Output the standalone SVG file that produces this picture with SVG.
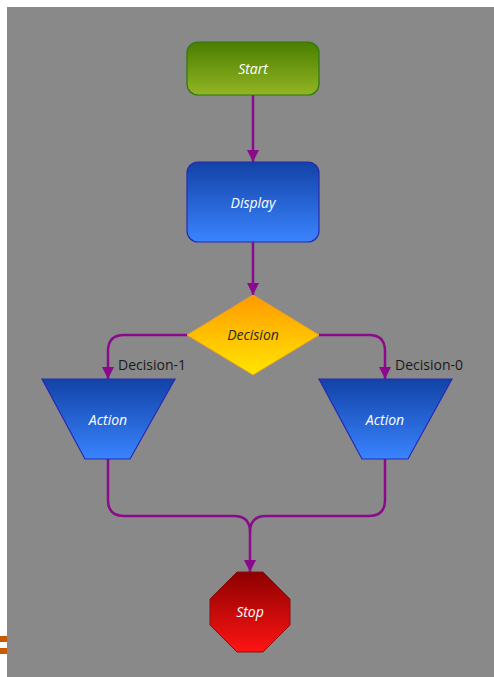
<svg xmlns="http://www.w3.org/2000/svg" width="494" height="677" viewBox="0 0 494 677">
<style>
.lbl{font-family:"Open Sans","Noto Sans",sans-serif;font-style:italic;font-size:14px;text-anchor:middle;fill:#ffffff}
.dlbl{font-family:"Open Sans","Noto Sans",sans-serif;font-size:14px;fill:#1a1a1a}
.con{fill:none;stroke:#8b0a8b;stroke-width:2.5}
</style>
<defs>
<linearGradient id="gGreen" x1="0" y1="0" x2="0" y2="1"><stop offset="0" stop-color="#4a7e00"/><stop offset="1" stop-color="#93b524"/></linearGradient>
<linearGradient id="gBlue" x1="0" y1="0" x2="0" y2="1"><stop offset="0" stop-color="#1242a6"/><stop offset="1" stop-color="#3a84ff"/></linearGradient>
<linearGradient id="gOrange" x1="0" y1="0" x2="0" y2="1"><stop offset="0" stop-color="#ff9a00"/><stop offset="1" stop-color="#ffe600"/></linearGradient>
<linearGradient id="gRed" x1="0" y1="0" x2="0" y2="1"><stop offset="0" stop-color="#8c0000"/><stop offset="1" stop-color="#ff1414"/></linearGradient>
<marker id="arr" viewBox="0 0 12 12" refX="12" refY="6" markerWidth="12" markerHeight="12" markerUnits="userSpaceOnUse" orient="auto"><path d="M0,0 L12,6 L0,12 Z" fill="#8b0a8b"/></marker>
</defs>
<rect x="7" y="7" width="487" height="670" fill="#898989"/>
<rect x="0" y="636" width="7" height="6" fill="#c85a00"/>
<rect x="0" y="648" width="7" height="6" fill="#c85a00"/>
<g id="connectors">
<path class="con" d="M253,95 V162" marker-end="url(#arr)"/>
<path class="con" d="M253,242 V295" marker-end="url(#arr)"/>
<path class="con" d="M187,335 H124 Q108,335 108,351 V379" marker-end="url(#arr)"/>
<path class="con" d="M319,335 H369 Q385,335 385,351 V379" marker-end="url(#arr)"/>
<path class="con" d="M108,459 V500 Q108,516 124,516 H234 Q250,516 250,532"/>
<path class="con" d="M385,459 V500 Q385,516 369,516 H266 Q250,516 250,532 V572" marker-end="url(#arr)"/>
<text class="dlbl" x="118" y="370">Decision-1</text>
<text class="dlbl" x="395" y="370">Decision-0</text>
</g>
<g id="start">
<rect x="187" y="42" width="132" height="53" rx="11" fill="url(#gGreen)" stroke="#2a7a10" stroke-width="1.2"/>
<text class="lbl" x="253" y="74">Start</text>
</g>
<g id="display">
<rect x="187" y="162" width="132" height="80" rx="11" fill="url(#gBlue)" stroke="#2828b4" stroke-width="1.2"/>
<text class="lbl" x="253" y="208">Display</text>
</g>
<g id="decision">
<polygon points="253,295 319,335 253,375 187,335" fill="url(#gOrange)" stroke="#f0a020" stroke-width="1"/>
<text class="lbl" x="253" y="340" style="fill:#2a2a2a">Decision</text>
</g>
<g id="action1">
<polygon points="42,379 175,379 130,459 85,459" fill="url(#gBlue)" stroke="#2828b4" stroke-width="1.2"/>
<text class="lbl" x="108" y="425">Action</text>
</g>
<g id="action0">
<polygon points="319,379 452,379 408,459 362,459" fill="url(#gBlue)" stroke="#2828b4" stroke-width="1.2"/>
<text class="lbl" x="385" y="425">Action</text>
</g>
<g id="stop">
<polygon points="237,572 263,572 290,599 290,625 263,652 237,652 210,625 210,599" fill="url(#gRed)" stroke="#8a1010" stroke-width="1"/>
<text class="lbl" x="250" y="617">Stop</text>
</g>
</svg>
